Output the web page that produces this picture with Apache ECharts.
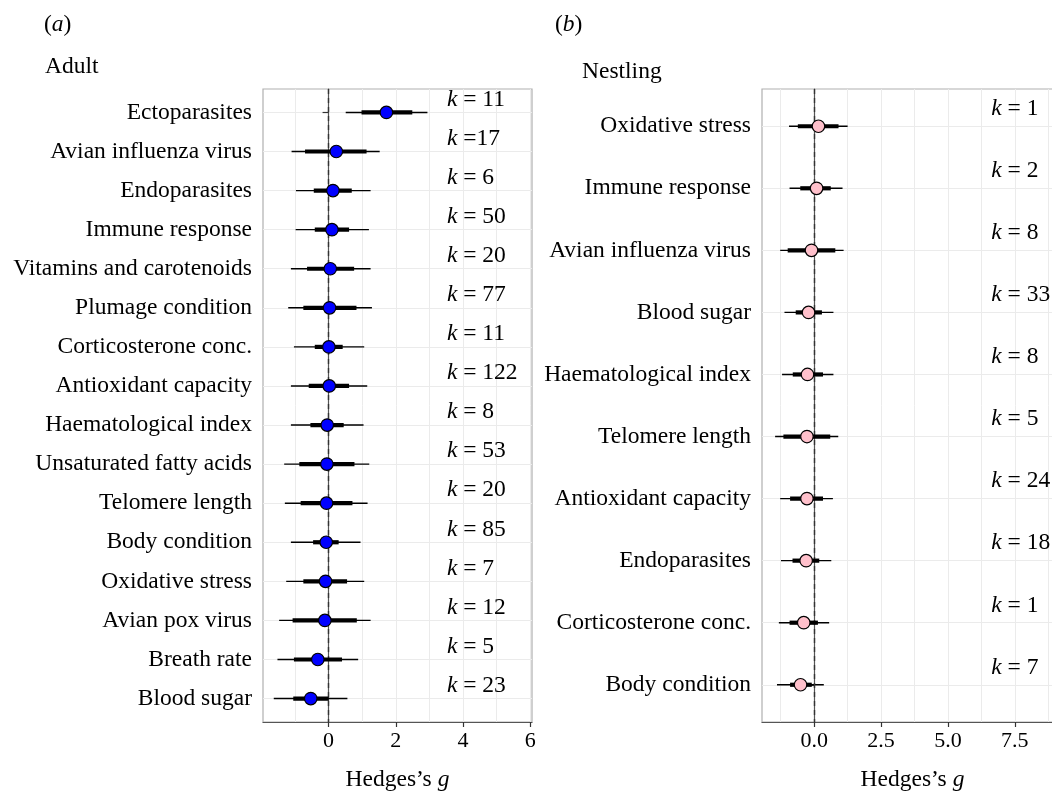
<!DOCTYPE html>
<html>
<head>
<meta charset="utf-8">
<script src="https://cdn.jsdelivr.net/npm/echarts@6/dist/echarts.min.js"></script>
<style>html,body{margin:0;padding:0;background:#fff}#c{width:1052px;height:793px}</style>
</head>
<body>
<div id="c"></div>
<script>
// ---------- Panel (a) Adult ----------
const adultCats = ['Ectoparasites','Avian influenza virus','Endoparasites','Immune response','Vitamins and carotenoids','Plumage condition','Corticosterone conc.','Antioxidant capacity','Haematological index','Unsaturated fatty acids','Telomere length','Body condition','Oxidative stress','Avian pox virus','Breath rate','Blood sugar'];
const adultEst   = [1.72, 0.23, 0.13, 0.10, 0.05, 0.03, 0.01, 0.02, -0.04, -0.05, -0.06, -0.07, -0.09, -0.11, -0.32, -0.53];
const adultCiLo  = [0.51, -1.10, -0.97, -0.98, -1.12, -1.20, -1.03, -1.12, -1.12, -1.32, -1.30, -1.12, -1.26, -1.47, -1.52, -1.63];
const adultCiHi  = [2.94, 1.52, 1.25, 1.20, 1.25, 1.29, 1.06, 1.15, 1.04, 1.21, 1.16, 0.95, 1.06, 1.25, 0.88, 0.56];
const adultInLo  = [0.98, -0.70, -0.44, -0.41, -0.64, -0.75, -0.41, -0.59, -0.54, -0.87, -0.83, -0.46, -0.75, -1.07, -1.03, -1.05];
const adultInHi  = [2.49, 1.13, 0.69, 0.61, 0.76, 0.83, 0.42, 0.61, 0.45, 0.77, 0.71, 0.30, 0.55, 0.84, 0.40, 0.00];
const adultK     = ['k = 11','k =17','k = 6','k = 50','k = 20','k = 77','k = 11','k = 122','k = 8','k = 53','k = 20','k = 85','k = 7','k = 12','k = 5','k = 23'];
const adultTicks = [0, 2, 4, 6];
const adultGrid  = [-1, 0, 1, 2, 3, 4, 5, 6];

// ---------- Panel (b) Nestling ----------
const nestCats = ['Oxidative stress','Immune response','Avian influenza virus','Blood sugar','Haematological index','Telomere length','Antioxidant capacity','Endoparasites','Corticosterone conc.','Body condition'];
const nestEst  = [0.16, 0.09, -0.10, -0.21, -0.25, -0.27, -0.27, -0.30, -0.39, -0.51];
const nestCiLo = [-0.94, -0.92, -1.27, -1.11, -1.20, -1.46, -1.27, -1.24, -1.32, -1.39];
const nestCiHi = [1.25, 1.06, 1.10, 0.72, 0.72, 0.90, 0.70, 0.64, 0.56, 0.36];
const nestInLo = [-0.61, -0.52, -0.99, -0.69, -0.80, -1.15, -0.90, -0.81, -0.92, -0.90];
const nestInHi = [0.91, 0.62, 0.79, 0.29, 0.33, 0.60, 0.33, 0.19, 0.14, -0.09];
const nestK    = ['k = 1','k = 2','k = 8','k = 33','k = 8','k = 5','k = 24','k = 18','k = 1','k = 7'];
const nestTicks = [0, 2.5, 5, 7.5];
const nestGrid  = [-1.25, 0, 1.25, 2.5, 3.75, 5, 6.25, 7.5, 8.75];

// ---------- styling ----------
const FONT = '"Liberation Serif", "DejaVu Serif", serif';
const TXT = '#000';
const GRIDC = '#ebebeb';
const FS = 23.5;

function idx(n){ const a=[]; for(let i=0;i<n;i++) a.push(i); return a; }

function lineRenderer(width){
  return function(params, api){
    const p1 = api.coord([api.value(0), api.value(2)]);
    const p2 = api.coord([api.value(1), api.value(2)]);
    return {type:'line', shape:{x1:p1[0], y1:p1[1], x2:p2[0], y2:p2[1]}, style:{stroke:'#000', lineWidth:width}};
  };
}

function richK(s){ return '{i|' + s.charAt(0) + '}{n|' + s.slice(1) + '}'; }

const richText = {
  n:{fontFamily:FONT, fontSize:FS, color:TXT, fontWeight:'normal'},
  i:{fontFamily:FONT, fontSize:FS, color:TXT, fontStyle:'italic', fontWeight:'normal'}
};

function buildPanel(gi, cats, est, ciLo, ciHi, inLo, inHi, kText, ticks, gridVals, xmin, xmax, kx, kOff, fill, decimals){
  const n = cats.length;
  const xMain = {
    type:'value', gridIndex:gi, min:xmin, max:xmax, position:'bottom',
    axisLine:{show:true, onZero:false, lineStyle:{color:'#555', width:1.2}},
    axisTick:{show:true, length:5, customValues:ticks, lineStyle:{color:'#333', width:1.2}},
    axisLabel:{customValues:ticks, margin:8, fontFamily:FONT, fontSize:22, color:TXT,
      formatter:(v)=> decimals ? Number(v).toFixed(decimals) : String(v)},
    splitLine:{show:false},
    name:'{n|Hedges\u2019s }{i|g}', nameLocation:'middle', nameGap:46,
    nameTextStyle:{fontFamily:FONT, fontSize:FS, color:TXT, rich:richText}
  };
  const xGrid = {
    type:'value', gridIndex:gi, min:xmin, max:xmax, position:'bottom',
    axisLine:{show:false}, axisLabel:{show:false},
    axisTick:{show:false, customValues:gridVals},
    splitLine:{show:true, lineStyle:{color:GRIDC, width:1}}
  };
  const y = {
    type:'value', gridIndex:gi, min:-0.6, max:n-1+0.6, inverse:true,
    axisLine:{show:true, lineStyle:{color:'#555', width:1.2}},
    axisTick:{show:true, length:6, customValues:idx(n), lineStyle:{color:'#333', width:1.2}},
    axisLabel:{customValues:idx(n), margin:11, fontFamily:FONT, fontSize:FS, color:TXT,
      formatter:(v)=> cats[Math.round(v)] || ''},
    splitLine:{show:true, lineStyle:{color:GRIDC, width:1}}
  };
  const xi = gi*2, yi = gi;
  const ciData = cats.map((c,i)=>[ciLo[i], ciHi[i], i]);
  const inData = cats.map((c,i)=>[inLo[i], inHi[i], i]);
  const ptData = cats.map((c,i)=>[est[i], i]);
  const kData = kText.map((t,i)=>[kx, i - kOff, t]);
  const series = [
    {type:'custom', xAxisIndex:xi, yAxisIndex:yi, renderItem:lineRenderer(1.4), data:ciData,
     encode:{x:[0,1], y:2}, z:2, silent:true,
     markLine:{silent:true, symbol:['none','none'], label:{show:false},
       lineStyle:{type:[5,4], color:'#333', width:1.4}, data:[{xAxis:0}], z:3}},
    {type:'custom', xAxisIndex:xi, yAxisIndex:yi, renderItem:lineRenderer(4.2), data:inData,
     encode:{x:[0,1], y:2}, z:4, silent:true},
    {type:'scatter', xAxisIndex:xi, yAxisIndex:yi, data:ptData, symbol:'circle', symbolSize:12.5, z:6,
     itemStyle:{color:fill, borderColor:'#000', borderWidth:1.2, opacity:1}, silent:true},
    {type:'scatter', xAxisIndex:xi, yAxisIndex:yi, data:kData, symbolSize:0, z:7, silent:true,
     itemStyle:{opacity:1},
     label:{show:true, position:'right', distance:0, opacity:1, formatter:(p)=>richK(p.data[2]),
       rich:richText}}
  ];
  return {xAxes:[xMain, xGrid], yAxis:y, series};
}

const pa = buildPanel(0, adultCats, adultEst, adultCiLo, adultCiHi, adultInLo, adultInHi, adultK, adultTicks, adultGrid, -1.95, 6.05, 3.52, 0.33, '#0000ff', 0);
const pb = buildPanel(1, nestCats, nestEst, nestCiLo, nestCiHi, nestInLo, nestInHi, nestK, nestTicks, nestGrid, -1.95, 9.3, 6.62, 0.28, '#ffc0cb', 1);

const titleStyle = {fontFamily:FONT, fontSize:FS, color:TXT, fontWeight:'normal', rich:richText};

const option = {
  backgroundColor:'#fff',
  animation:false,
  title:[
    {text:'{n|(}{i|a}{n|)}', left:44, top:13, padding:0, textStyle:titleStyle},
    {text:'Adult', left:45, top:55, padding:0, textStyle:titleStyle},
    {text:'{n|(}{i|b}{n|)}', left:555, top:13, padding:0, textStyle:titleStyle},
    {text:'Nestling', left:582, top:60, padding:0, textStyle:titleStyle}
  ],
  grid:[
    {left:263, top:89, width:269, height:633, show:true, borderColor:'#b0b0b0', borderWidth:1.2, backgroundColor:'transparent', containLabel:false, outerBoundsMode:'none'},
    {left:762, top:89, width:301, height:633, show:true, borderColor:'#b0b0b0', borderWidth:1.2, backgroundColor:'transparent', containLabel:false, outerBoundsMode:'none'}
  ],
  xAxis:[...pa.xAxes, ...pb.xAxes],
  yAxis:[pa.yAxis, pb.yAxis],
  series:[...pa.series, ...pb.series]
};

const chart = echarts.init(document.getElementById('c'), null, {renderer:'canvas'});
chart.setOption(option);
</script>
</body>
</html>
